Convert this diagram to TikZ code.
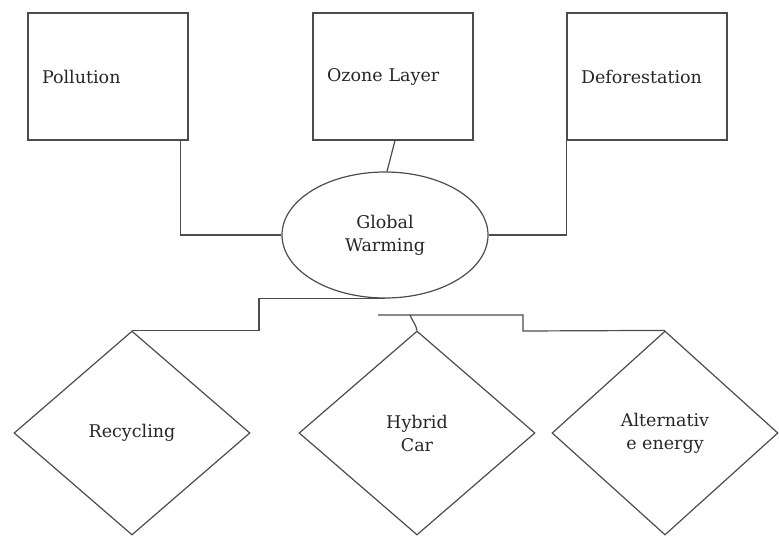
\documentclass[tikz,border=0pt]{standalone}
\usepackage{fontspec}
\setmainfont{DejaVu Serif}
\usepackage{tikz}
\usetikzlibrary{shapes.geometric}

\begin{document}
\begin{tikzpicture}[x=1pt, y=-1pt, every node/.style={font=\fontsize{17.5}{23}\selectfont, text=black!85},
  topic/.style={draw=black!70, line width=1.2pt, rectangle, minimum width=160pt, minimum height=127pt, text width=132pt, inner xsep=14pt, align=left},
  hub/.style={draw=black!70, line width=1.2pt, ellipse, minimum width=206pt, minimum height=126pt, inner sep=0pt, align=center},
  fix/.style={draw=black!70, line width=1.2pt, diamond, minimum width=236pt, minimum height=204pt, inner sep=0pt, align=center},
  link/.style={draw=black!70, line width=1.2pt}
]
\useasboundingbox (0,0) rectangle (779,536);
\node[topic] (poll) at (108,76.5) {Pollution};
\node[topic] (ozone) at (393,76.5) {Ozone Layer};
\node[topic] (defo) at (647,76.5) {Deforestation};
\node[hub] (gw) at (385,235) {Global\\Warming};
\node[fix] (recyc) at (132,433) {Recycling};
\node[fix] (hybrid) at (417,433) {Hybrid\\Car};
\node[fix, minimum width=226pt] (alt) at (665,433) {Alternativ\\e energy};
\coordinate (split) at (378,315);
\coordinate (hook) at (410,315);
\coordinate (bend) at (523,331);
\draw[link] ([xshift=-8pt]poll.south east) |- (gw.west);
\draw[link] ([xshift=2pt]ozone.south) -- ([xshift=2pt]gw.north);
\draw[link] (defo.south west) |- (gw.east);
\draw[link] (gw.south) -- ++(-126,0) |- (recyc.north);
\draw[link] (split) -| (bend) -- (alt.north);
\draw[link] (hook) to[out=-70, in=100] (hybrid.north);
\end{tikzpicture}
\end{document}
